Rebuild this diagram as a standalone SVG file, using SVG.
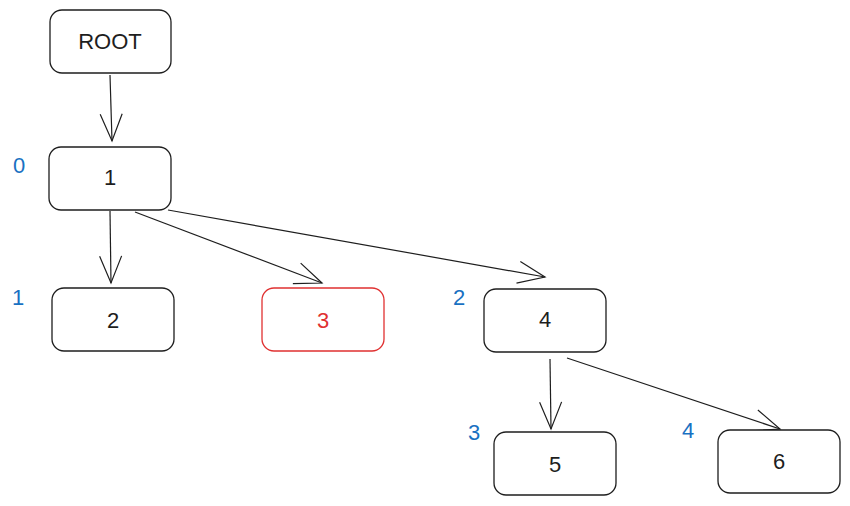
<svg xmlns="http://www.w3.org/2000/svg" width="850" height="506" viewBox="0 0 850 506">
<style>
.box{fill:#fff;stroke:#1e1e1e;stroke-width:1.3}
.red{stroke:#e03131}
.t{font-family:"Liberation Sans",Arial,sans-serif;font-size:22px;fill:#1e1e1e;text-anchor:middle;dominant-baseline:central}
.tr{fill:#e03131}
.lbl{font-family:"Liberation Sans",Arial,sans-serif;font-size:22px;fill:#1971c2;text-anchor:middle;dominant-baseline:central}
.c{stroke:#1e1e1e;stroke-width:1.2;fill:none}
</style>
<defs>
<marker id="ah" markerWidth="32" markerHeight="26" refX="28" refY="12" orient="auto" markerUnits="userSpaceOnUse">
<path d="M1,1 L28,12 L1,23" fill="none" stroke="#1e1e1e" stroke-width="1.2"/>
</marker>
</defs>
<rect width="850" height="506" fill="#fff"/>
<g id="connectors">
<line class="c" x1="110" y1="75" x2="112" y2="141" marker-end="url(#ah)"/>
<line class="c" x1="110" y1="211" x2="111" y2="283" marker-end="url(#ah)"/>
<line class="c" x1="135" y1="212" x2="322" y2="283" marker-end="url(#ah)"/>
<line class="c" x1="168" y1="210" x2="545" y2="277" marker-end="url(#ah)"/>
<line class="c" x1="550" y1="359" x2="551" y2="429" marker-end="url(#ah)"/>
<line class="c" x1="567" y1="358" x2="780" y2="429" marker-end="url(#ah)"/>
</g>
<g id="node-root"><rect class="box" x="50" y="10" width="121" height="63" rx="12"/><text class="t" x="110" y="41">ROOT</text></g>
<g id="node-1"><rect class="box" x="49" y="147" width="122" height="63" rx="12"/><text class="t" x="110" y="177">1</text></g>
<g id="node-2"><rect class="box" x="52" y="288" width="122" height="63" rx="12"/><text class="t" x="113" y="320">2</text></g>
<g id="node-3"><rect class="box red" x="262" y="288" width="122" height="63" rx="12"/><text class="t tr" x="323" y="320">3</text></g>
<g id="node-4"><rect class="box" x="484" y="289" width="122" height="63" rx="12"/><text class="t" x="545" y="319">4</text></g>
<g id="node-5"><rect class="box" x="494" y="432" width="122" height="63" rx="12"/><text class="t" x="555" y="464">5</text></g>
<g id="node-6"><rect class="box" x="718" y="430" width="122" height="63" rx="12"/><text class="t" x="779" y="461">6</text></g>
<g id="labels">
<text class="lbl" x="19" y="165">0</text>
<text class="lbl" x="18" y="297">1</text>
<text class="lbl" x="459" y="297">2</text>
<text class="lbl" x="474" y="432">3</text>
<text class="lbl" x="688" y="430">4</text>
</g>
</svg>
